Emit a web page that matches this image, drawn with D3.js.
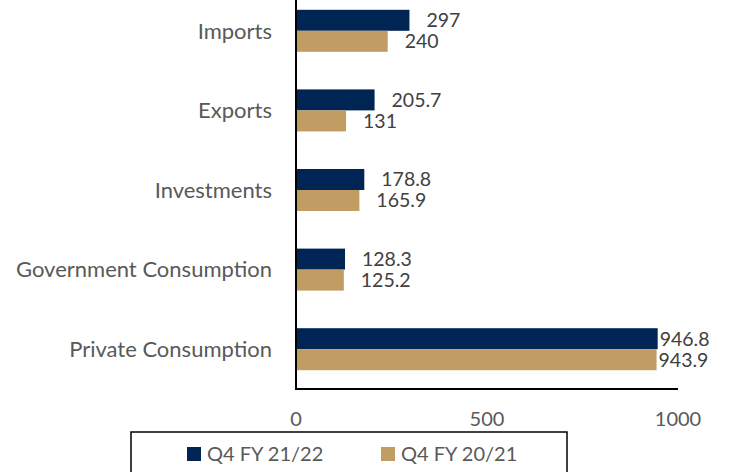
<!DOCTYPE html>
<html><head><meta charset="utf-8">
<script src="https://cdn.jsdelivr.net/npm/d3@7"></script>
<style>body{margin:0;background:#fff}svg{display:block}</style>
</head><body>
<script>
const categories = ["Imports","Exports","Investments","Government Consumption","Private Consumption"];
const seriesNames = ["Q4 FY 21/22","Q4 FY 20/21"];
const values2122 = [297,205.7,178.8,128.3,946.8];
const values2021 = [240,131,165.9,125.2,943.9];
const labels2122 = ["297","205.7","178.8","128.3","946.8"];
const labels2021 = ["240","131","165.9","125.2","943.9"];
const xTicks = [0,500,1000];
const colors = ["#002554","#C19C63"];

const W=731,H=472;
const svg=d3.select("body").append("svg").attr("width",W).attr("height",H);
const font="Lato, 'Open Sans', sans-serif";
const x=d3.scaleLinear().domain([0,1000]).range([296,678]);
const y=d3.scaleBand().domain(categories).range([-9,389]);
const bh=21;
const series=[values2122,values2021];
const labs=[labels2122,labels2021];

series.forEach((vals,si)=>{
  svg.append("g").selectAll("rect").data(categories).join("rect")
    .attr("x",x(0)).attr("y",(d)=>y(d)+y.bandwidth()/2-bh+si*bh)
    .attr("width",(d,i)=>x(vals[i])-x(0)).attr("height",bh)
    .attr("fill",colors[si]);
});
// value labels
series.forEach((vals,si)=>{
  svg.append("g").selectAll("text").data(categories).join("text")
    .attr("x",(d,i)=>{const e=x(vals[i]); return e+17+60>W? e+2 : e+17;})
    .attr("y",(d)=>y(d)+y.bandwidth()/2-bh/2+si*bh)
    .attr("dy","0.35em")
    .attr("font-family",font).attr("font-size",19.5).attr("fill","#404040")
    .text((d,i)=>labs[si][i]);
});
// category labels
svg.append("g").selectAll("text").data(categories).join("text")
  .attr("x",272).attr("y",d=>y(d)+y.bandwidth()/2).attr("dy","0.35em")
  .attr("text-anchor","end").attr("font-family",font).attr("font-size",22)
  .attr("fill","#595959").text(d=>d);
// axes lines
svg.append("line").attr("x1",x(0)).attr("x2",x(0)).attr("y1",0).attr("y2",389.5)
  .attr("stroke","#000").attr("stroke-width",2);
svg.append("line").attr("x1",x(0)-1).attr("x2",678).attr("y1",389).attr("y2",389)
  .attr("stroke","#000").attr("stroke-width",2);
// x tick labels
svg.append("g").selectAll("text").data(xTicks).join("text")
  .attr("x",d=>x(d)).attr("y",419).attr("dy","0.35em").attr("text-anchor","middle")
  .attr("font-family",font).attr("font-size",20).attr("fill","#595959").text(d=>d);
// legend
svg.append("rect").attr("x",131).attr("y",432).attr("width",436).attr("height",60)
  .attr("fill","#fff").attr("stroke","#000").attr("stroke-width",1.5);
const lx=[187,381];
seriesNames.forEach((n,i)=>{
  svg.append("rect").attr("x",lx[i]).attr("y",447).attr("width",14).attr("height",14).attr("fill",colors[i]);
  svg.append("text").attr("x",lx[i]+20).attr("y",454).attr("dy","0.35em")
    .attr("font-family",font).attr("font-size",20).attr("fill","#595959").text(n);
});
</script>
</body></html>
